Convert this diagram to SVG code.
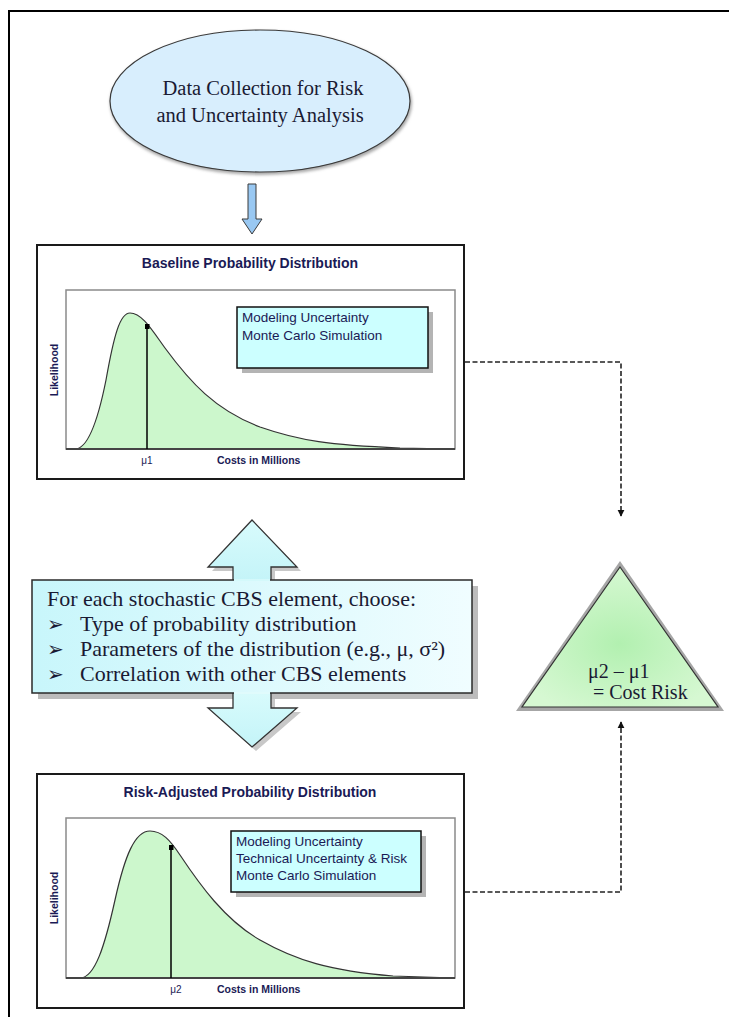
<svg xmlns="http://www.w3.org/2000/svg" width="729" height="1017" viewBox="0 0 729 1017">
  <defs>
    <style>
      .serif { font-family: "Liberation Serif", "Times New Roman", serif; fill: #1a1a33; }
      .sans { font-family: "Liberation Sans", Arial, sans-serif; fill: #1a1a55; }
      .title { font-size: 14px; font-weight: bold; }
      .axis { font-size: 10.5px; font-weight: bold; }
      .mu { font-size: 10px; }
      .legend { font-size: 13.5px; }
      .frame { fill: #ffffff; stroke: #1a1a1a; stroke-width: 2; }
      .plot { fill: #ffffff; stroke: #8a8a8a; stroke-width: 1.5; }
      .curve { fill: #ccf7cc; stroke: #333333; stroke-width: 1.2; }
      .baseline { stroke: #444444; stroke-width: 2; }
      .mean { stroke: #000000; stroke-width: 1.5; }
      .lbox { fill: #ccffff; stroke: #111111; stroke-width: 1.5; }
      .shadow { fill: #b4b4b4; }
      .dash { fill: none; stroke: #222222; stroke-width: 1.6; stroke-dasharray: 5 2.5; }
    </style>
    <linearGradient id="paramFill" x1="0" y1="0" x2="1" y2="0">
      <stop offset="0" stop-color="#c8f6fb"/>
      <stop offset="1" stop-color="#f0fdff"/>
    </linearGradient>
    <linearGradient id="arrowFill" x1="0" y1="0" x2="0" y2="1">
      <stop offset="0" stop-color="#d8fbfc"/>
      <stop offset="1" stop-color="#c4f4f8"/>
    </linearGradient>
    <radialGradient id="riskFill" cx="0.5" cy="0.55" r="0.55">
      <stop offset="0" stop-color="#b2f0b0"/>
      <stop offset="1" stop-color="#d6f8d2"/>
    </radialGradient>
    <filter id="soft" x="-10%" y="-10%" width="120%" height="120%">
      <feGaussianBlur stdDeviation="1.5"/>
    </filter>
    <marker id="tip" viewBox="0 0 10 10" refX="9" refY="5" markerWidth="4.5" markerHeight="4.5" orient="auto">
      <path d="M0,0 L10,5 L0,10 Z" fill="#111111"/>
    </marker>
  </defs>

  <rect width="729" height="1017" fill="#ffffff"/>

  <!-- page border (top and left edges only) -->
  <g id="page-border" stroke="#000000" stroke-width="2" fill="none">
    <line x1="8" y1="11" x2="729" y2="11"/>
    <line x1="9" y1="10" x2="9" y2="1017"/>
  </g>

  <!-- data collection ellipse -->
  <g id="node-data-collection">
    <ellipse cx="261" cy="103" rx="151" ry="72" fill="#a8a8a8" filter="url(#soft)"/>
    <ellipse cx="260" cy="101" rx="150" ry="71" fill="#d8eefd" stroke="#3a3a3a" stroke-width="1.2"/>
    <text class="serif" font-size="20.5" text-anchor="middle" x="263" y="95">Data Collection for Risk</text>
    <text class="serif" font-size="20.5" text-anchor="middle" x="260" y="122">and Uncertainty Analysis</text>
  </g>

  <!-- baseline distribution chart -->
  <g id="node-baseline">
    <rect class="frame" x="37" y="245" width="427" height="234"/>
    <text class="sans title" text-anchor="middle" x="250" y="268">Baseline Probability Distribution</text>
    <rect class="plot" x="66" y="290" width="389" height="159"/>
    <path class="curve" d="M75,449 C88,449 98,420 106,380 C114,335 120,313 130,313 C142,313 152,330 165,348 C190,382 215,410 260,427 C300,441 330,445 400,448 L455,449 Z"/>
    <line class="baseline" x1="66" y1="449" x2="455" y2="449"/>
    <line class="mean" x1="147" y1="327" x2="147" y2="449"/>
    <rect x="145" y="324" width="4.5" height="5" fill="#000000"/>
    <text class="sans mu" text-anchor="middle" x="147" y="464">μ1</text>
    <text class="sans axis" x="217" y="464">Costs in Millions</text>
    <text class="sans axis" text-anchor="middle" transform="translate(58 370) rotate(-90)">Likelihood</text>
    <rect class="shadow" x="242" y="312" width="191" height="61"/>
    <rect class="lbox" x="237" y="307" width="191" height="61"/>
    <text class="sans legend" x="242" y="322">Modeling Uncertainty</text>
    <text class="sans legend" x="242" y="340">Monte Carlo Simulation</text>
  </g>

  <!-- parameter choice box with up/down arrows -->
  <g id="node-parameters">
    <path d="M256,524 L301,571 L275,571 L275,584 L237,584 L237,571 L212,571 Z M237,697 L275,697 L275,712 L301,712 L256,751 L212,712 L237,712 Z" fill="#c8c8c8"/>
    <rect x="38" y="586" width="440" height="113" fill="#bcbcbc"/>
    <path d="M252,520 L297,567 L271,567 L271,581 L233,581 L233,567 L208,567 Z" fill="url(#arrowFill)" stroke="#333333" stroke-width="1.3"/>
    <path d="M233,692 L271,692 L271,708 L297,708 L252,747 L208,708 L233,708 Z" fill="url(#arrowFill)" stroke="#333333" stroke-width="1.3"/>
    <rect x="32" y="580" width="440" height="113" fill="url(#paramFill)" stroke="#2a2a2a" stroke-width="1.5"/>
    <line x1="234" y1="580" x2="270" y2="580" stroke="#d4f9fb" stroke-width="2"/>
    <line x1="234" y1="693" x2="270" y2="693" stroke="#e0fbfc" stroke-width="2"/>
    <text class="serif" font-size="22" x="47" y="606">For each stochastic CBS element, choose:</text>
    <text class="serif" font-size="20" x="47" y="631">➢</text>
    <text class="serif" font-size="22" x="80" y="631">Type of probability distribution</text>
    <text class="serif" font-size="20" x="47" y="656">➢</text>
    <text class="serif" font-size="22" x="80" y="656">Parameters of the distribution (e.g., μ, σ²)</text>
    <text class="serif" font-size="20" x="47" y="681">➢</text>
    <text class="serif" font-size="22" x="80" y="681">Correlation with other CBS elements</text>
  </g>

  <!-- cost risk triangle -->
  <g id="node-cost-risk">
    <polygon points="620,561 724,711 516,711" fill="#a6a6a6"/>
    <polygon points="620,567 718,707 522,707" fill="url(#riskFill)" stroke="#333333" stroke-width="1.2"/>
    <text class="serif" font-size="20" x="588" y="678">μ2 – μ1</text>
    <text class="serif" font-size="20" x="593" y="699">= Cost Risk</text>
  </g>

  <!-- risk-adjusted distribution chart -->
  <g id="node-risk-adjusted">
    <rect class="frame" x="37" y="774" width="427" height="234"/>
    <text class="sans title" text-anchor="middle" x="250" y="797">Risk-Adjusted Probability Distribution</text>
    <rect class="plot" x="66" y="818" width="389" height="160"/>
    <path class="curve" d="M80,978 C95,978 105,945 115,900 C125,855 135,831 150,831 C162,831 170,840 180,855 C200,885 225,920 260,940 C295,960 330,971 393,976 L455,978 Z"/>
    <line class="baseline" x1="66" y1="978" x2="455" y2="978"/>
    <line class="mean" x1="171" y1="848" x2="171" y2="978"/>
    <rect x="169" y="845" width="4.5" height="5" fill="#000000"/>
    <text class="sans mu" text-anchor="middle" x="176" y="993">μ2</text>
    <text class="sans axis" x="217" y="993">Costs in Millions</text>
    <text class="sans axis" text-anchor="middle" transform="translate(58 898) rotate(-90)">Likelihood</text>
    <rect class="shadow" x="236" y="836" width="190" height="61"/>
    <rect class="lbox" x="231" y="831" width="190" height="61"/>
    <text class="sans legend" x="236" y="846">Modeling Uncertainty</text>
    <text class="sans legend" x="236" y="863">Technical Uncertainty &amp; Risk</text>
    <text class="sans legend" x="236" y="880">Monte Carlo Simulation</text>
  </g>

  <!-- connectors -->
  <g id="connectors">
    <path d="M248,184 L256,184 L256,219 L262,219 L252,234 L242,219 L248,219 Z" fill="#99c8f2" stroke="#3a3a3a" stroke-width="1"/>
    <path class="dash" d="M465,362 L621,362 L621,516" marker-end="url(#tip)"/>
    <path class="dash" d="M465,892 L621,892 L621,722" marker-end="url(#tip)"/>
  </g>
</svg>
